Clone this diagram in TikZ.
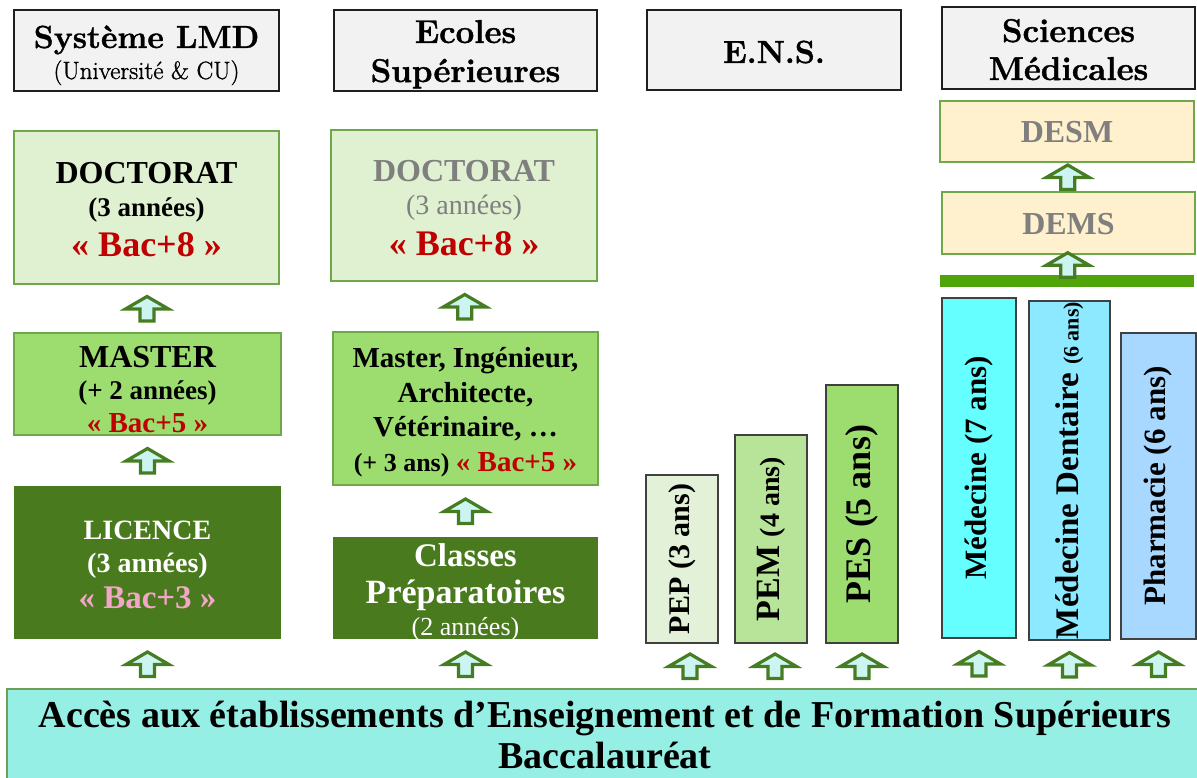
\documentclass[tikz,border=0pt]{standalone}
\usepackage{fontspec}
\newfontfamily\cf{Liberation Serif}
\newfontfamily\hdf{Latin Modern Roman}[FakeBold=1.2]
\usetikzlibrary{calc}
\definecolor{hdrgray}{HTML}{F2F2F2}
\definecolor{hdrline}{HTML}{1F1F1F}
\definecolor{docfill}{HTML}{DFF1D1}
\definecolor{docline}{HTML}{6FA84A}
\definecolor{masfill}{HTML}{9DDC6E}
\definecolor{licfill}{HTML}{4A7A1E}
\definecolor{bacred}{HTML}{C00000}
\definecolor{bacpink}{HTML}{F4A6C8}
\definecolor{greytxt}{HTML}{7F7F7F}
\definecolor{pepfill}{HTML}{E2F1D8}
\definecolor{pemfill}{HTML}{B8E49A}
\definecolor{ensline}{HTML}{404040}
\definecolor{medfill}{HTML}{66FFFF}
\definecolor{dentfill}{HTML}{8DE9FF}
\definecolor{pharmfill}{HTML}{A8D8FF}
\definecolor{desmfill}{HTML}{FFF0CE}
\definecolor{bargreen}{HTML}{4FA30B}
\definecolor{bacfill}{HTML}{96EFE4}
\definecolor{bacline}{HTML}{6E9E58}
\definecolor{arrfill}{HTML}{CCF5F1}
\definecolor{arrline}{HTML}{477D22}
\newcommand\fs[1]{\fontsize{#1}{#1}\selectfont}
\tikzset{
  uparr/.pic={\path[draw=arrline, fill=arrfill, line width=3.2pt, line join=miter]
    (0,-12) -- (21.5,0.5) -- (7,0.5) -- (7,12.5) -- (-7,12.5) -- (-7,0.5) -- (-21.5,0.5) -- cycle;},
  box/.style={rectangle, inner sep=0pt, line width=1.5pt},
  hdr/.style={box, draw=hdrline, fill=hdrgray, line width=1.5pt},
  docbox/.style={box, draw=docline, fill=docfill},
  masbox/.style={box, draw=docline, fill=masfill},
  darkbox/.style={box, fill=licfill},
  ensbox/.style={box, draw=ensline},
  medbox/.style={box, draw=docline, fill=desmfill},
  htxt/.style={anchor=base, inner sep=0pt, font=\hdf\bfseries},
  btxt/.style={anchor=base, inner sep=0pt, font=\cf\bfseries},
  vtxt/.style={rotate=90, inner sep=0pt, font=\cf\bfseries},
}
\begin{document}
\begin{tikzpicture}[x=1pt,y=-1pt]
\useasboundingbox (0,0) rectangle (1197,778);
\clip (0,0) rectangle (1197,778);
\fill[white] (0,0) rectangle (1197,778);

% headers
\node[hdr, minimum width=265, minimum height=81] (h1) at (146.5,50.5) {};
\node[hdr, minimum width=263, minimum height=81] (h2) at (465.5,50.5) {};
\node[hdr, minimum width=254, minimum height=80] (h3) at (774,50) {};
\node[hdr, minimum width=253, minimum height=82] (h4) at (1068.5,48) {};
\node[htxt, font=\hdf\bfseries\fs{32}] at (146.5,48) {Système LMD};
\node[htxt, font=\hdf\fs{25}] at (146.5,79) {(Université \& CU)};
\node[htxt, font=\hdf\bfseries\fs{33}] at (465.5,43) {Ecoles};
\node[htxt, font=\hdf\bfseries\fs{33}] at (465.5,82) {Supérieures};
\node[htxt, font=\hdf\bfseries\fs{32}] at (774,63) {E.N.S.};
\node[htxt, font=\hdf\bfseries\fs{33}] at (1068.5,42) {Sciences};
\node[htxt, font=\hdf\bfseries\fs{33}] at (1068.5,80) {Médicales};

% column 1
\node[docbox, minimum width=265, minimum height=153] (doc1) at (146.5,207.5) {};
\node[masbox, minimum width=267, minimum height=102] (mas1) at (147.5,384) {};
\node[darkbox, minimum width=267, minimum height=153] (lic1) at (147.5,562.5) {};
\node[btxt, font=\cf\bfseries\fs{32}] at (146.5,184) {DOCTORAT};
\node[btxt, font=\cf\bfseries\fs{27}] at (146.5,217) {(3 années)};
\node[btxt, font=\cf\bfseries\fs{36}, text=bacred] at (146.5,257) {« Bac+8 »};
\node[btxt, font=\cf\bfseries\fs{32}] at (147.5,367) {MASTER};
\node[btxt, font=\cf\bfseries\fs{27}] at (147.5,399) {(+ 2 années)};
\node[btxt, font=\cf\bfseries\fs{29}, text=bacred] at (147.5,432) {« Bac+5 »};
\node[btxt, font=\cf\bfseries\fs{28}, text=white] at (147.5,539) {LICENCE};
\node[btxt, font=\cf\bfseries\fs{28}, text=white] at (147.5,572) {(3 années)};
\node[btxt, font=\cf\bfseries\fs{33}, text=bacpink] at (147.5,608) {« Bac+3 »};

% column 2
\node[docbox, minimum width=266, minimum height=151] (doc2) at (464,205.5) {};
\node[masbox, minimum width=265, minimum height=153] (mas2) at (465.5,408.5) {};
\node[darkbox, minimum width=265, minimum height=102] (cp2) at (465.5,588) {};
\node[btxt, font=\cf\bfseries\fs{32}, text=greytxt] at (464,182) {DOCTORAT};
\node[btxt, font=\cf\fs{28}, text=greytxt] at (464,215) {(3 années)};
\node[btxt, font=\cf\bfseries\fs{36}, text=bacred] at (464,255) {« Bac+8 »};
\node[btxt, font=\cf\bfseries\fs{29}] at (465.5,367) {Master, Ingénieur,};
\node[btxt, font=\cf\bfseries\fs{29}] at (465.5,402) {Architecte,};
\node[btxt, font=\cf\bfseries\fs{29}] at (465.5,436) {Vétérinaire, …};
\node[btxt, font=\cf\bfseries\fs{26}] at (465.5,471) {(+ 3 ans) {\color{bacred}\fs{29}« Bac+5 »}};
\node[btxt, font=\cf\bfseries\fs{33}, text=white] at (465.5,566) {Classes};
\node[btxt, font=\cf\bfseries\fs{34}, text=white] at (465.5,603) {Préparatoires};
\node[btxt, font=\cf\fs{26}, text=white] at (465.5,635) {(2 années)};

% E.N.S.
\node[ensbox, fill=pepfill, minimum width=72, minimum height=168] (pep) at (682,559) {};
\node[ensbox, fill=pemfill, minimum width=72, minimum height=208] (pem) at (771,539) {};
\node[ensbox, fill=masfill, minimum width=72, minimum height=258] (pes) at (862,514) {};
\node[vtxt, font=\cf\bfseries\fs{30}] at (pep.center) {PEP (3 ans)};
\node[vtxt, font=\cf\bfseries\fs{34}] at (pem.center) {PEM {\fs{28}(4 ans)}};
\node[vtxt, font=\cf\bfseries\fs{36}] at (pes.center) {PES (5 ans)};

% Sciences medicales
\node[medbox, minimum width=254, minimum height=61] (desm) at (1067,131.5) {};
\node[medbox, minimum width=253, minimum height=62] (dems) at (1068.5,223) {};
\node[btxt, font=\cf\bfseries\fs{32}, text=greytxt] at (1067,143) {DESM};
\node[btxt, font=\cf\bfseries\fs{32}, text=greytxt] at (1068.5,235) {DEMS};
\node[rectangle, inner sep=0pt, fill=bargreen, minimum width=254, minimum height=12] (bar) at (1067,281) {};
\node[ensbox, fill=medfill, minimum width=74, minimum height=340] (med) at (979,468) {};
\node[ensbox, fill=dentfill, minimum width=81, minimum height=339] (dent) at (1069.5,470.5) {};
\node[ensbox, fill=pharmfill, minimum width=75, minimum height=306] (pharm) at (1158.5,486) {};
\node[vtxt, font=\cf\bfseries\fs{31}] at (med.center) {Médecine (7 ans)};
\node[vtxt, font=\cf\bfseries\fs{33}] at (dent.center) {Médecine Dentaire {\fs{22}(6 ans)}};
\node[vtxt, font=\cf\bfseries\fs{31}] at (pharm.center) {Pharmacie (6 ans)};

% bottom
\node[rectangle, inner sep=0pt, draw=bacline, fill=bacfill, line width=1.5pt, minimum width=1210, minimum height=110] (bac) at (612,744) {};
\node[btxt, font=\cf\bfseries\fs{38}] at (605,727) {Accès aux établissements d’Enseignement et de Formation Supérieurs};
\node[btxt, font=\cf\bfseries\fs{38}] at (605,768) {Baccalauréat};

% arrows
\pic at ($(doc1.south)!0.5!(mas1.north)$) {uparr};
\pic at ($(mas1.south)!0.5!(lic1.north)$) {uparr};
\pic at ($(lic1.south)!0.5!(lic1.south |- bac.north)$) {uparr};
\pic at ($(doc2.south)!0.5!(mas2.north)$) {uparr};
\pic at ($(mas2.south)!0.5!(cp2.north)$) {uparr};
\pic at ($(cp2.south)!0.5!(cp2.south |- bac.north)$) {uparr};
\pic at ($([xshift=8pt]pep.south)!0.5!([xshift=8pt]pep.south |- bac.north)$) {uparr};
\pic at ($([xshift=4pt]pem.south)!0.5!([xshift=4pt]pem.south |- bac.north)$) {uparr};
\pic at ($(pes.south)!0.5!(pes.south |- bac.north)$) {uparr};
\pic at ($(med.south)!0.5!(med.south |- bac.north)$) {uparr};
\pic at ($(dent.south)!0.5!(dent.south |- bac.north)$) {uparr};
\pic at ($(pharm.south)!0.5!(pharm.south |- bac.north)$) {uparr};
\pic at ($(dems.south)!0.5!(bar.north)$) {uparr};
\pic at ($(desm.south)!0.5!(dems.north)$) {uparr};
\end{tikzpicture}
\end{document}
